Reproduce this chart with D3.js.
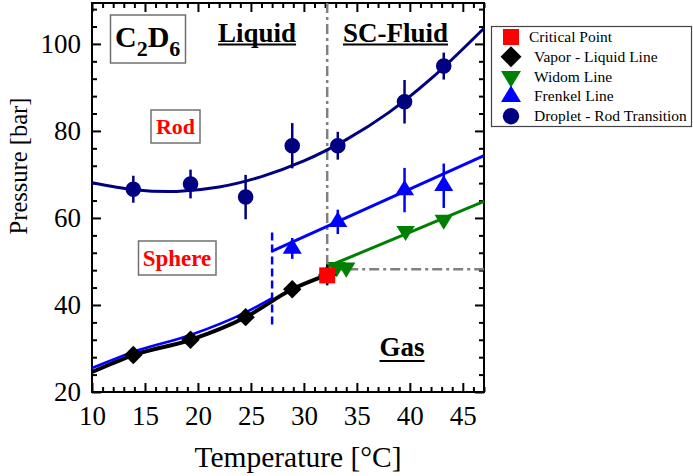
<!DOCTYPE html>
<html>
<head>
<meta charset="utf-8">
<script src="https://cdn.jsdelivr.net/npm/d3@7"></script>
<style>
  html, body { margin: 0; padding: 0; background: #fff; }
  svg { display: block; font-family: "Liberation Serif", "Times New Roman", serif; }
</style>
</head>
<body>
<svg id="chart" width="693" height="476"></svg>
<script>
// ---- data ----
const dropT = [13.9, 19.3, 24.5, 28.9, 33.2, 39.5, 43.2];
const dropP = [66.6, 67.8, 64.8, 76.6, 76.6, 86.7, 94.9];
const dropErr = [3.1, 3.3, 5.1, 5.2, 3.2, 5.0, 3.1];

const vlT = [13.9, 19.3, 24.5, 28.9, 32.2];
const vlP = [28.5, 32.0, 37.2, 43.6, 46.9];
const vlErr = [0, 0, 0, 1.5, 2.4];

const critT = [32.2];
const critP = [46.8];

const widomT = [33.1, 34.0, 39.6, 43.2];
const widomP = [48.7, 48.6, 57.0, 59.6];

const frenkelT = [28.9, 33.2, 39.5, 43.2];
const frenkelP = [53.0, 59.1, 66.4, 67.4];
const frenkelErr = [2.4, 2.8, 5.1, 5.1];

// fitted guide curves as drawn in the figure
const dropCurveT = [10, 14, 18, 22, 26, 30, 34, 38, 42, 47];
const dropCurveP = [68.1, 66.5, 66.1, 67.1, 69.5, 73.1, 78.0, 84.2, 92.0, 103.6];
const vlCurveT = [10, 13.9, 19.3, 24.5, 28.9, 32.2];
const vlCurveP = [24.6, 28.5, 32.0, 37.2, 43.6, 46.9];
const frenkelLowT = [10, 13.9, 19.3, 24.5, 27];
const frenkelLowP = [25.5, 29.2, 33.1, 38.3, 41.6];
const frenkelHighT = [27, 47];
const frenkelHighP = [52.4, 74.3];
const widomLineT = [32.3, 47];
const widomLineP = [48.9, 63.8];

const critVertT = [32.2, 32.2];
const critVertP = [109.4, 48.2];
const critHorT = [32.2, 47];
const critHorP = [48.2, 48.2];
const frenkelCutT = [27, 27];
const frenkelCutP = [35.5, 56.8];

const xTicks = [10, 15, 20, 25, 30, 35, 40, 45];
const yTicks = [20, 40, 60, 80, 100];

const legendNames = ["Critical Point", "Vapor - Liquid Line", "Widom Line", "Frenkel Line", "Droplet - Rod Transition"];

// ---- layout ----
const mLeft = 92, mRight = 484, mTop = 3, mBottom = 392;
const svg = d3.select("#chart");

const x = d3.scaleLinear().domain([10, 47]).range([mLeft, mRight]);
const y = d3.scaleLinear().domain([20, 109.4]).range([mBottom, mTop]);

const zip = (a, b) => a.map((v, i) => [v, b[i]]);

// marker shapes
function shape(type, s) {
  if (type === "square") return `M${-s},${-s}H${s}V${s}H${-s}Z`;
  if (type === "diamond") return `M0,${-s}L${s},0L0,${s}L${-s},0Z`;
  if (type === "up") return `M0,${-s * 1.1}L${s},${s * 0.55}L${-s},${s * 0.55}Z`;
  if (type === "down") return `M0,${s * 1.1}L${s},${-s * 0.55}L${-s},${-s * 0.55}Z`;
  return d3.symbol(d3.symbolCircle, Math.PI * s * s)();
}

// ---- axes ----
const minorX = d3.range(10, 48, 1).filter(v => v % 5 !== 0);
const minorY = d3.range(20, 110, 4).filter(v => v % 20 !== 0);

function axisGroup(axis, tr) {
  const g = svg.append("g").attr("transform", tr).call(axis);
  g.select(".domain").remove();
  g.selectAll(".tick line").attr("stroke", "#000").attr("stroke-width", 2);
  g.selectAll("text").attr("font-size", 27).attr("fill", "#000")
    .attr("font-family", "'Liberation Serif', 'Times New Roman', serif");
  return g;
}

axisGroup(d3.axisBottom(x).tickValues(xTicks).tickSize(-9).tickPadding(14).tickFormat(d3.format("d")), `translate(0,${mBottom})`);
axisGroup(d3.axisBottom(x).tickValues(minorX).tickSize(-5).tickFormat(""), `translate(0,${mBottom})`);
axisGroup(d3.axisTop(x).tickValues(xTicks).tickSize(-9).tickFormat(""), `translate(0,${mTop})`);
axisGroup(d3.axisTop(x).tickValues(minorX).tickSize(-5).tickFormat(""), `translate(0,${mTop})`);
axisGroup(d3.axisLeft(y).tickValues(yTicks).tickSize(-9).tickPadding(11).tickFormat(d3.format("d")), `translate(${mLeft},0)`);
axisGroup(d3.axisLeft(y).tickValues(minorY).tickSize(-5).tickFormat(""), `translate(${mLeft},0)`);
axisGroup(d3.axisRight(y).tickValues(yTicks).tickSize(-9).tickFormat(""), `translate(${mRight},0)`);
axisGroup(d3.axisRight(y).tickValues(minorY).tickSize(-5).tickFormat(""), `translate(${mRight},0)`);

svg.append("rect")
  .attr("x", mLeft).attr("y", mTop)
  .attr("width", mRight - mLeft).attr("height", mBottom - mTop)
  .attr("fill", "none").attr("stroke", "#000").attr("stroke-width", 2);

// axis titles
svg.append("text")
  .attr("x", (mLeft + mRight) / 2 + 10).attr("y", 467)
  .attr("text-anchor", "middle").attr("font-size", 29.5)
  .text("Temperature [°C]");
svg.append("text")
  .attr("transform", "translate(27,166) rotate(-90)")
  .attr("text-anchor", "middle").attr("font-size", 24.5)
  .text("Pressure [bar]");

// ---- reference lines ----
const plot = svg.append("g");
const line = d3.line().x(d => x(d[0])).y(d => y(d[1]));
const smooth = d3.line().x(d => x(d[0])).y(d => y(d[1])).curve(d3.curveMonotoneX);

plot.append("path").datum(zip(critVertT, critVertP)).attr("d", line)
  .attr("fill", "none").attr("stroke", "#808080").attr("stroke-width", 2.5)
  .attr("stroke-dasharray", "10,4,3,4");
plot.append("path").datum(zip(critHorT, critHorP)).attr("d", line)
  .attr("fill", "none").attr("stroke", "#808080").attr("stroke-width", 2.5)
  .attr("stroke-dasharray", "10,4,3,4");
plot.append("path").datum(zip(frenkelCutT, frenkelCutP)).attr("d", line)
  .attr("fill", "none").attr("stroke", "#0000ff").attr("stroke-width", 2.5)
  .attr("stroke-dasharray", "8,4");

plot.append("path").datum(zip(vlCurveT, vlCurveP)).attr("d", smooth)
  .attr("fill", "none").attr("stroke", "#000").attr("stroke-width", 4);
plot.append("path").datum(zip(frenkelLowT, frenkelLowP)).attr("d", smooth)
  .attr("fill", "none").attr("stroke", "#0000ff").attr("stroke-width", 2.6);
plot.append("path").datum(zip(frenkelHighT, frenkelHighP)).attr("d", line)
  .attr("fill", "none").attr("stroke", "#0000ff").attr("stroke-width", 3);
plot.append("path").datum(zip(widomLineT, widomLineP)).attr("d", line)
  .attr("fill", "none").attr("stroke", "#008000").attr("stroke-width", 3);
plot.append("path").datum(zip(dropCurveT, dropCurveP)).attr("d", d3.line().x(d => x(d[0])).y(d => y(d[1])).curve(d3.curveCatmullRom))
  .attr("fill", "none").attr("stroke", "#000080").attr("stroke-width", 3);

// ---- error bars and markers ----
function series(T, P, E, type, size, color) {
  const pts = T.map((t, i) => ({ t, p: P[i], e: E ? E[i] : 0 }));
  plot.selectAll(null).data(pts.filter(d => d.e > 0)).enter().append("line")
    .attr("x1", d => x(d.t)).attr("x2", d => x(d.t))
    .attr("y1", d => y(d.p - d.e)).attr("y2", d => y(d.p + d.e))
    .attr("stroke", color).attr("stroke-width", 2.5);
  plot.selectAll(null).data(pts).enter().append("path")
    .attr("transform", d => `translate(${x(d.t)},${y(d.p)})`)
    .attr("d", shape(type, size)).attr("fill", color);
}

series(dropT, dropP, dropErr, "circle", 7.8, "#000080");
series(frenkelT, frenkelP, frenkelErr, "up", 9.5, "#0000ff");
series(widomT, widomP, null, "down", 9.2, "#008000");
series(vlT, vlP, vlErr, "diamond", 9.2, "#000");
series(critT, critP, null, "square", 8, "#ff0000");

// ---- annotations ----
const cd = svg.append("text").attr("x", 115).attr("y", 47)
  .attr("font-size", 30).attr("font-weight", "bold");
cd.append("tspan").text("C");
cd.append("tspan").attr("dy", 9).attr("font-size", 22).text("2");
cd.append("tspan").attr("dy", -9).text("D");
cd.append("tspan").attr("dy", 9).attr("font-size", 22).text("6");
svg.insert("rect", () => cd.node())
  .attr("x", 110.5).attr("y", 15).attr("width", 75).attr("height", 48)
  .attr("fill", "#fff").attr("stroke", "#707070").attr("stroke-width", 1.5);

const rod = svg.append("text").attr("x", 175.5).attr("y", 134)
  .attr("text-anchor", "middle").attr("font-size", 22).attr("font-weight", "bold")
  .attr("fill", "#ff0000").text("Rod");
svg.insert("rect", () => rod.node())
  .attr("x", 151).attr("y", 110).attr("width", 49).attr("height", 33)
  .attr("fill", "#fff").attr("stroke", "#707070").attr("stroke-width", 1.5);

const sph = svg.append("text").attr("x", 177).attr("y", 266)
  .attr("text-anchor", "middle").attr("font-size", 23).attr("font-weight", "bold")
  .attr("fill", "#ff0000").text("Sphere");
svg.insert("rect", () => sph.node())
  .attr("x", 138.5).attr("y", 241).attr("width", 77.5).attr("height", 34)
  .attr("fill", "#fff").attr("stroke", "#707070").attr("stroke-width", 1.5);

function underlined(label, tx, ty, uy) {
  const t = svg.append("text").attr("x", tx).attr("y", ty)
    .attr("font-size", 27).attr("font-weight", "bold").text(label);
  const w = t.node().getComputedTextLength();
  svg.append("line").attr("x1", tx).attr("x2", tx + w)
    .attr("y1", uy).attr("y2", uy).attr("stroke", "#000").attr("stroke-width", 2);
}
underlined("Liquid", 218, 41.5, 44.5);
underlined("SC-Fluid", 343, 41.5, 44.5);
underlined("Gas", 379.5, 355.5, 361);

// ---- legend ----
const lg = svg.append("g");
lg.append("rect").attr("x", 491.5).attr("y", 26.5).attr("width", 200).attr("height", 100)
  .attr("fill", "#fff").attr("stroke", "#444").attr("stroke-width", 1.2);
const legTypes = ["square", "diamond", "down", "up", "circle"];
const legSizes = [8, 10.5, 10, 10, 8.2];
const legColors = ["#ff0000", "#000", "#008000", "#0000ff", "#000080"];
legendNames.forEach((name, i) => {
  const cy = 37 + i * 19.8;
  lg.append("path").attr("transform", `translate(511,${cy})`)
    .attr("d", shape(legTypes[i], legSizes[i])).attr("fill", legColors[i]);
  lg.append("text").attr("x", i === 0 ? 529 : 534).attr("y", cy + 5)
    .attr("font-size", 15.5).text(name);
});
</script>
</body>
</html>
